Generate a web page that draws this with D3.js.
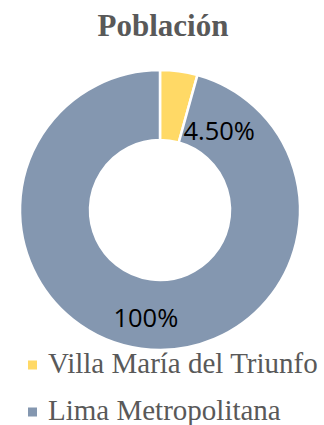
<!DOCTYPE html>
<html>
<head>
<meta charset="utf-8">
<script src="https://cdn.jsdelivr.net/npm/d3@7"></script>
<style>
  html, body { margin: 0; padding: 0; background: #fff; }
  svg { display: block; }
</style>
</head>
<body>
<svg id="chart" width="324" height="425"></svg>
<script>
// Population share: Villa María del Triunfo vs Lima Metropolitana
const title = "Población";
const categories = ["Villa María del Triunfo", "Lima Metropolitana"];
const values = [4.5, 100];
const valueLabels = ["4.50%", "100%"];
const colors = ["#FFD966", "#8497B0"];

const width = 324, height = 425;
const cx = 160, cy = 210;
const outerR = 140, innerR = 70;

const svg = d3.select("#chart");

svg.append("text")
  .attr("x", 163)
  .attr("y", 36)
  .attr("text-anchor", "middle")
  .attr("font-family", "'Liberation Serif', 'Times New Roman', serif")
  .attr("font-weight", "bold")
  .attr("font-size", 31)
  .attr("fill", "#595959")
  .text(title);

const pie = d3.pie().sort(null).value(d => d)(values);
const arc = d3.arc().innerRadius(innerR).outerRadius(outerR);
const labelArc = d3.arc().innerRadius((innerR + outerR) / 2).outerRadius((innerR + outerR) / 2);

const g = svg.append("g").attr("transform", `translate(${cx},${cy})`);

g.selectAll("path.slice")
  .data(pie)
  .join("path")
  .attr("class", "slice")
  .attr("d", arc)
  .attr("fill", (d, i) => colors[i])
  .attr("stroke", "#fff")
  .attr("stroke-width", 2.5);

// Small slice label is pushed outward/right of its slice; large one sits on its centroid
const labelShift = [[45, 24], [0, 3]];
g.selectAll("text.value")
  .data(pie)
  .join("text")
  .attr("class", "value")
  .attr("transform", (d, i) => {
    const c = labelArc.centroid(d);
    return `translate(${c[0] + labelShift[i][0]},${c[1] + labelShift[i][1]})`;
  })
  .attr("text-anchor", "middle")
  .attr("dominant-baseline", "central")
  .attr("font-family", "'Open Sans', 'Noto Sans', sans-serif")
  .attr("font-size", 25.5)
  .attr("fill", "#000")
  .text((d, i) => valueLabels[i]);

// Legend
const legendY = d3.scaleOrdinal().domain(categories).range([365, 412]);
const legend = svg.append("g");
const items = legend.selectAll("g.item")
  .data(categories)
  .join("g")
  .attr("class", "item")
  .attr("transform", d => `translate(28,${legendY(d)})`);

items.append("rect")
  .attr("x", 0)
  .attr("y", -4.5)
  .attr("width", 9)
  .attr("height", 9)
  .attr("fill", (d, i) => colors[i]);

items.append("text")
  .attr("x", 20)
  .attr("y", 8)
  .attr("font-family", "'Liberation Serif', 'Times New Roman', serif")
  .attr("font-size", 29)
  .attr("fill", "#595959")
  .text(d => d);
</script>
</body>
</html>
